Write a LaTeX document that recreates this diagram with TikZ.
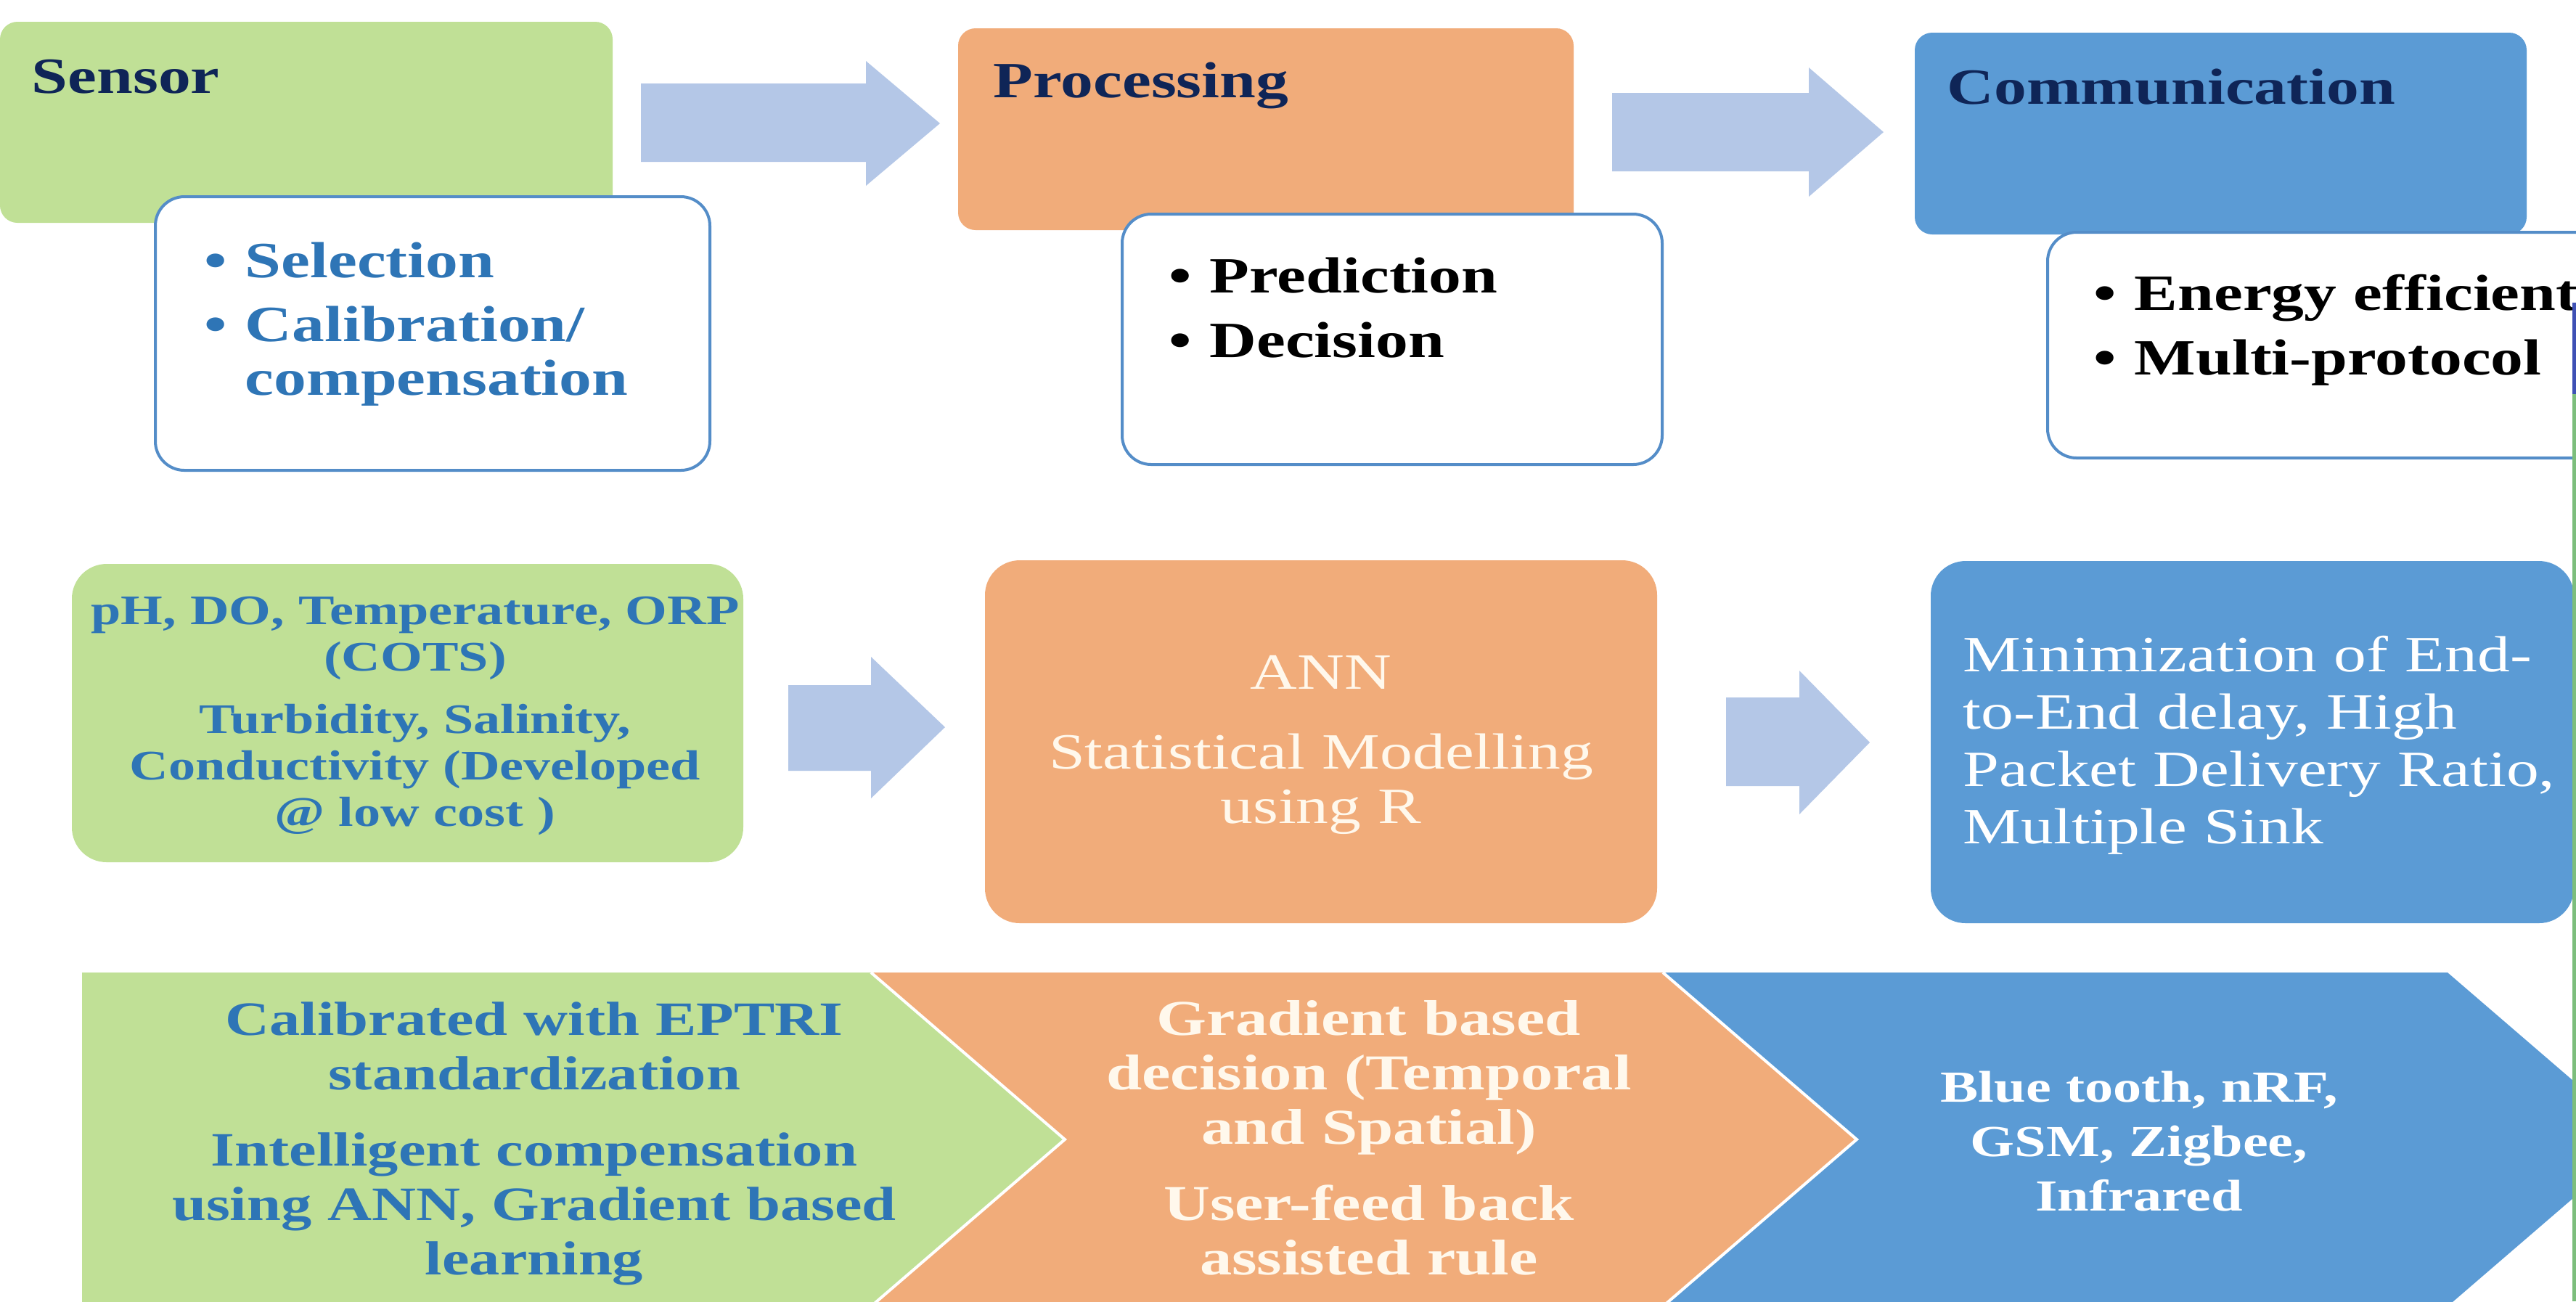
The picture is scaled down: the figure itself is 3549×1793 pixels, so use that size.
\documentclass[tikz,border=0pt]{standalone}
\usepackage{fontspec}
\setmainfont{Liberation Serif}[FakeStretch=1.28]
\definecolor{gfill}{RGB}{192,224,150}
\definecolor{ofill}{RGB}{241,172,122}
\definecolor{bfill}{RGB}{91,155,213}
\definecolor{arrowc}{RGB}{180,199,231}
\definecolor{navy}{RGB}{15,37,87}
\definecolor{btext}{RGB}{46,117,182}
\definecolor{cream}{RGB}{255,248,236}
\definecolor{subedge}{RGB}{84,141,200}
\definecolor{edgeblue}{RGB}{63,81,181}
\definecolor{edgegreen}{RGB}{125,190,125}
\newcommand{\mybul}{\makebox[14pt][l]{\textbullet}}
\tikzset{
  panel/.style={anchor=north west, inner sep=0pt, outer sep=0pt, rounded corners=#1},
  subpanel/.style={panel=10pt, fill=white, draw=subedge, line width=1pt},
  hdrtext/.style={anchor=base west, inner sep=0pt, text=navy, font=\fontsize{17.5}{18}\selectfont\bfseries},
  bullets/.style={anchor=base west, inner sep=0pt, text width=230pt, align=left, font=\fontsize{17.5}{18.5}\selectfont\bfseries},
  midtext/.style={anchor=base, inner sep=0pt, text width=228pt, align=center},
  lowtext/.style={anchor=base, inner sep=0pt, text width=260pt, align=center},
  blockarrow/.style={fill=arrowc},
  sep/.style={draw=white, line width=1pt}
}
\begin{document}
\begin{tikzpicture}[x=0.25pt, y=-0.25pt]
\useasboundingbox (0,0) rectangle (3549,1793);
\clip (0,0) rectangle (3549,1793);
\fill[white] (0,0) rectangle (3549,1793);

% ---------- top row ----------
\node[panel=6pt, fill=gfill, minimum width=211pt, minimum height=69.25pt] (sensorbox) at (0,30) {};
\node[subpanel, minimum width=191pt, minimum height=94.25pt] (sensorsub) at (214,271) {};
\node[hdrtext] (sensorlbl) at (43,128) {Sensor};
\node[bullets, text=btext] (sensorlist) at (281,382) {\mybul Selection\\[3.5pt]\mybul Calibration/\\ \hspace*{14pt}compensation};

\node[panel=6pt, fill=ofill, minimum width=212pt, minimum height=69.5pt] (procbox) at (1320,39) {};
\node[subpanel, minimum width=186pt, minimum height=86.25pt] (procsub) at (1546,295) {};
\node[hdrtext] (proclbl) at (1368,134) {Processing};
\node[bullets, text=black] (proclist) at (1610,403) {\mybul Prediction\\[3.75pt]\mybul Decision};

\node[panel=6pt, fill=bfill, minimum width=210.75pt, minimum height=69.5pt] (commbox) at (2638,45) {};
\node[subpanel, minimum width=200pt, minimum height=77.75pt] (commsub) at (2821,320) {};
\node[hdrtext] (commlbl) at (2682,143) {Communication};
\node[bullets, text=black] (commlist) at (2884,427) {\mybul Energy efficient\\[3.75pt]\mybul Multi-protocol};

\fill[blockarrow] (883,115) -- (1193,115) -- (1193,84) -- (1295,170) -- (1193,256) -- (1193,223) -- (883,223) -- cycle;
\fill[blockarrow] (2221,128) -- (2492,128) -- (2492,93) -- (2595,182) -- (2492,271) -- (2492,236) -- (2221,236) -- cycle;

% ---------- middle row ----------
\node[panel=12pt, fill=gfill, minimum width=231.25pt, minimum height=102.75pt] (midsens) at (99,777) {};
\node[midtext, text=btext, font=\fontsize{14.5}{16}\selectfont\bfseries] (midsenstext) at (572,860)
  {pH, DO, Temperature, ORP\\(COTS)\\[5.5pt]Turbidity, Salinity,\\Conductivity (Developed\\@ low cost )};

\node[panel=12pt, fill=ofill, minimum width=231.5pt, minimum height=125pt] (midproc) at (1357,772) {};
\node[midtext, text=cream, font=\fontsize{17.5}{18.75}\selectfont] (midproctext) at (1820,949)
  {ANN\\[8.75pt]Statistical Modelling\\using R};

\node[panel=12pt, fill=bfill, minimum width=221.5pt, minimum height=124.75pt] (midcomm) at (2660,773) {};
\node[anchor=base west, inner sep=0pt, text width=215pt, align=left, text=white, font=\fontsize{17.5}{19.75}\selectfont] (midcommtext) at (2704,925)
  {Minimization of End-\\to-End delay, High\\Packet Delivery Ratio,\\Multiple Sink};

\fill[blockarrow] (1086,944) -- (1200,944) -- (1200,905) -- (1302,1002) -- (1200,1100) -- (1200,1062) -- (1086,1062) -- cycle;
\fill[blockarrow] (2378,961) -- (2479,961) -- (2479,924) -- (2576,1023) -- (2479,1122) -- (2479,1083) -- (2378,1083) -- cycle;

% ---------- bottom row (chevrons) ----------
\fill[gfill] (113,1340) -- (1200,1340) -- (1467,1570) -- (1200,1800) -- (113,1800) -- cycle;
\fill[ofill] (1200,1340) -- (2291,1340) -- (2558,1570) -- (2291,1800) -- (1200,1800) -- (1467,1570) -- cycle;
\fill[bfill] (2291,1340) -- (3372,1340) -- (3639,1570) -- (3372,1800) -- (2291,1800) -- (2558,1570) -- cycle;
\draw[sep] (1200,1340) -- (1467,1570) -- (1200,1800);
\draw[sep] (2291,1340) -- (2558,1570) -- (2291,1800);

\node[lowtext, text=btext, font=\fontsize{16.5}{18.75}\selectfont\bfseries] (lowsens) at (736,1426)
  {Calibrated with EPTRI\\standardization\\[7.5pt]Intelligent compensation\\using ANN, Gradient based\\learning};
\node[lowtext, text=cream, font=\fontsize{17.3}{18.75}\selectfont\bfseries] (lowproc) at (1886,1426)
  {Gradient based\\decision (Temporal\\and Spatial)\\[7.5pt]User-feed back\\assisted rule};
\node[lowtext, text=white, font=\fontsize{15.3}{18.75}\selectfont\bfseries] (lowcomm) at (2947,1518)
  {Blue tooth, nRF,\\GSM, Zigbee,\\Infrared};

% ---------- right edge strips ----------
\fill[edgeblue] (3544,417) rectangle (3549,543);
\fill[edgegreen] (3544,543) rectangle (3549,1793);
\end{tikzpicture}
\end{document}
